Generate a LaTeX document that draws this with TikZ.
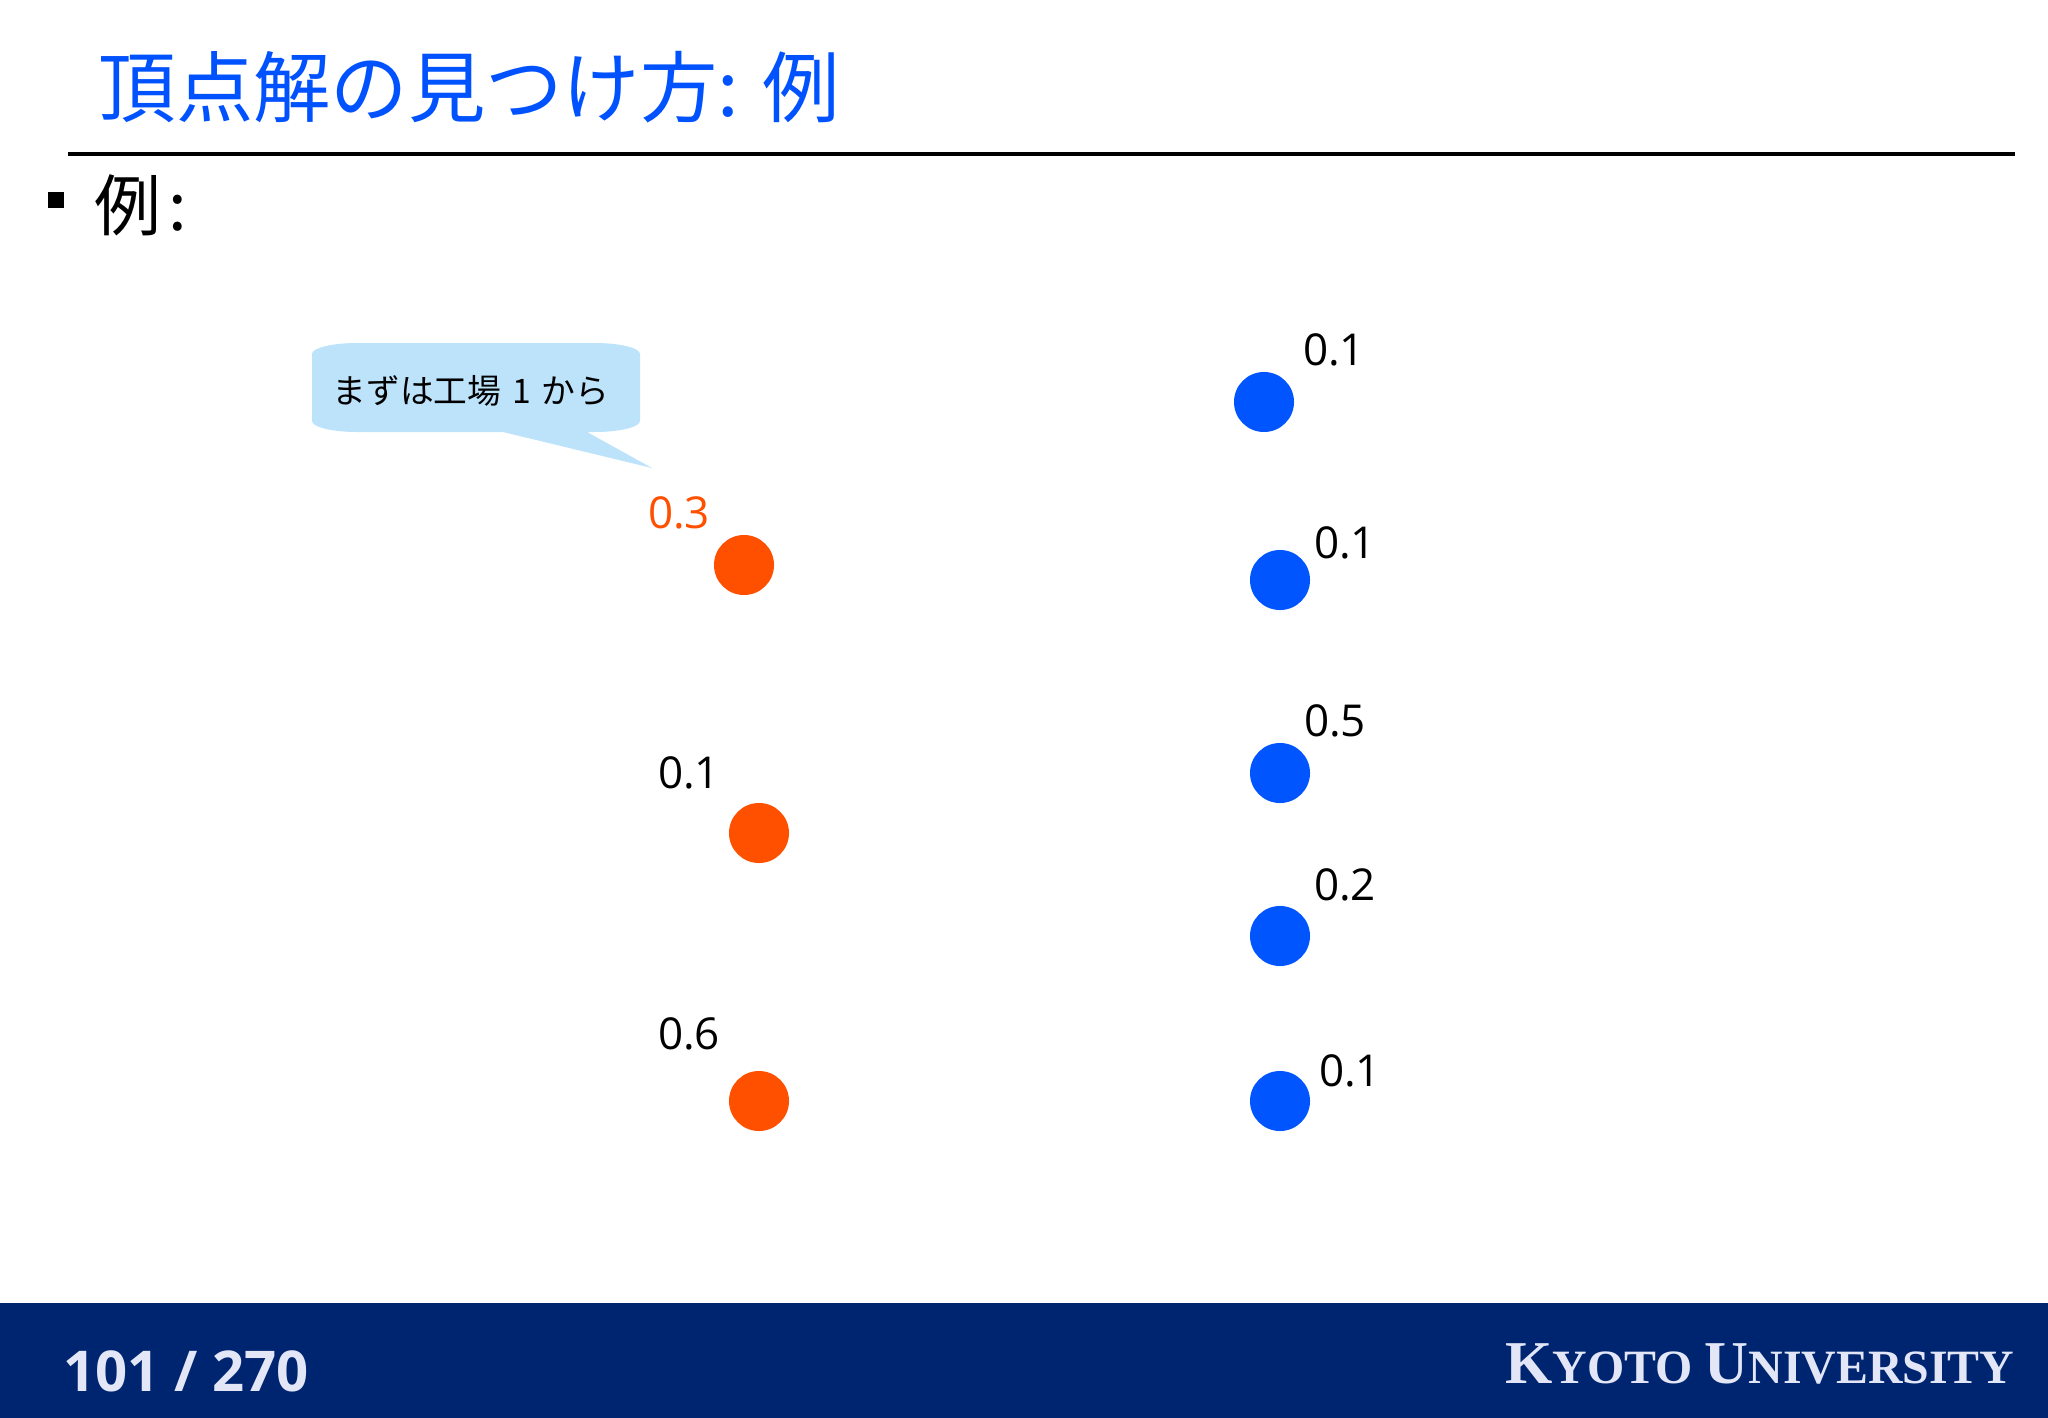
\documentclass[tikz,border=0pt]{standalone}
\usepackage{fontspec}
\setmainfont{Noto Sans CJK JP}
\newfontfamily\numfont{Open Sans}
\newfontfamily\univfont{Liberation Serif}
\definecolor{titleblue}{RGB}{0,82,255}
\definecolor{dotorange}{RGB}{255,80,0}
\definecolor{dotblue}{RGB}{0,85,255}
\definecolor{callfill}{RGB}{189,227,251}
\definecolor{footnavy}{RGB}{0,37,112}
\definecolor{foottext}{RGB}{226,230,246}
\tikzset{
  sdot/.style={circle,fill=dotorange,minimum size=0.6cm,inner sep=0pt},
  ddot/.style={circle,fill=dotblue,minimum size=0.6cm,inner sep=0pt},
  numlbl/.style={inner sep=0pt,font=\numfont\fontsize{12.5}{15}\selectfont}
}

\begin{document}
\begin{tikzpicture}[x=0.01cm,y=-0.01cm]
\useasboundingbox (0,0) rectangle (2048,1418);
\fill[white] (0,0) rectangle (2048,1418);
% heading
\node (title) at (98,87)[anchor=west,inner sep=0pt,text=titleblue,font=\fontsize{22}{26}\selectfont]{頂点解の見つけ方: 例};
\draw[line width=1.2pt] (68,154) -- (2015,154);
\node (bullet) at (56,200)[fill=black,minimum size=0.16cm,inner sep=0pt]{};
\node (rei) at (94,205)[anchor=west,inner sep=0pt,font=\fontsize{19}{23}\selectfont]{例\hspace{0.1em}:};
% callout
\coordinate (tip) at (652,468);
\fill[callfill] (312,354) arc[start angle=180,end angle=270,x radius=45,y radius=11]
  -- (595,343) arc[start angle=270,end angle=360,x radius=45,y radius=11]
  -- (640,421) arc[start angle=0,end angle=90,x radius=45,y radius=11]
  -- (587,432) -- (tip) -- (503,432)
  -- (357,432) arc[start angle=90,end angle=180,x radius=45,y radius=11] -- cycle;
\node (calltext) at (471,391)[inner sep=0pt,font=\fontsize{9.6}{12}\selectfont]{まずは工場\hspace{0.32em}1\hspace{0.32em}から};
% factories
\node[sdot] (s1) at (744,565){};
\node[sdot] (s2) at (759,833){};
\node[sdot] (s3) at (759,1101){};
\node[numlbl,text=dotorange] (s1lbl) at (679,513){0.3};
\node[numlbl] (s2lbl) at (689,773){0.1};
\node[numlbl] (s3lbl) at (689,1034){0.6};
% customers
\node[ddot] (d1) at (1264,402){};
\node[ddot] (d2) at (1280,580){};
\node[ddot] (d3) at (1280,773){};
\node[ddot] (d4) at (1280,936){};
\node[ddot] (d5) at (1280,1101){};
\node[numlbl] (d1lbl) at (1334,350){0.1};
\node[numlbl] (d2lbl) at (1345,543){0.1};
\node[numlbl] (d3lbl) at (1335,721){0.5};
\node[numlbl] (d4lbl) at (1345,885){0.2};
\node[numlbl] (d5lbl) at (1350,1071){0.1};
% footer
\fill[footnavy] (0,1303) rectangle (2048,1418);
\node (page) at (63,1371)[anchor=west,inner sep=0pt,text=foottext,font=\numfont\bfseries\fontsize{16}{20}\selectfont]{101 / 270};
\node (univ) at (2015,1364)[anchor=east,inner sep=0pt,text=foottext,font=\univfont\bfseries]{\fontsize{17.3}{21}\selectfont K\fontsize{13.6}{17}\selectfont YOTO \fontsize{17.3}{21}\selectfont U\fontsize{13.6}{17}\selectfont NIVERSITY};
\end{tikzpicture}
\end{document}
